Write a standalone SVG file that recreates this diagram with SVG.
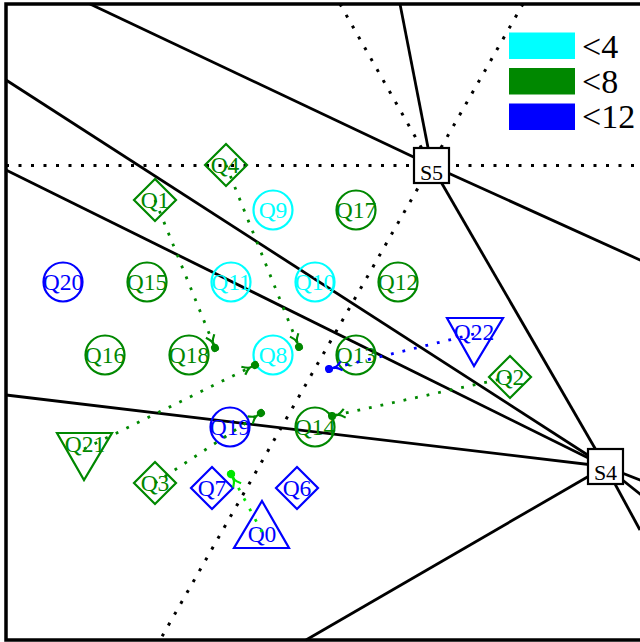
<svg xmlns="http://www.w3.org/2000/svg" width="640" height="642" viewBox="0 0 640 642">
  <style>
    .edge { stroke: #000; stroke-width: 2.8; fill: none; }
    .guide { stroke: #000; stroke-width: 3; stroke-dasharray: 3 9.5; fill: none; }
    .lbl { font-family: "Liberation Serif", "Times New Roman", serif; font-size: 23.5px; text-anchor: middle; }
    .leg { font-family: "Liberation Serif", "Times New Roman", serif; font-size: 34px; fill: #000; }
    .cy { stroke: #00ffff; fill: none; stroke-width: 2.2; }
    .gr { stroke: #008800; fill: none; stroke-width: 2.2; }
    .bl { stroke: #0000ff; fill: none; stroke-width: 2.2; }
    .tcy { fill: #00ffff; }
    .tgr { fill: #008800; }
    .tbl { fill: #0000ff; }
    .site { fill: #fff; stroke: #000; stroke-width: 2.2; }
    .move { fill: none; stroke-width: 2.8; stroke-dasharray: 2.8 9; }
  </style>
  <defs>
    <marker id="endG" viewBox="-14 -7 18 14" markerWidth="18" markerHeight="14" refX="0" refY="0" orient="auto" markerUnits="userSpaceOnUse">
      <path d="M -13,-4.5 Q -9,-1 -6,0 Q -9,1 -13,4.5 M -6,0 L -2,0" fill="none" stroke="#008800" stroke-width="2.2"/>
      <circle cx="0" cy="0" r="4" fill="#008800"/>
    </marker>
    <marker id="endB" viewBox="-14 -7 18 14" markerWidth="18" markerHeight="14" refX="0" refY="0" orient="auto" markerUnits="userSpaceOnUse">
      <path d="M -13,-4.5 Q -9,-1 -6,0 Q -9,1 -13,4.5 M -6,0 L -2,0" fill="none" stroke="#0000ff" stroke-width="2.2"/>
      <circle cx="0" cy="0" r="4" fill="#0000ff"/>
    </marker>
    <marker id="endL" viewBox="-14 -7 18 14" markerWidth="18" markerHeight="14" refX="0" refY="0" orient="auto" markerUnits="userSpaceOnUse">
      <path d="M -13,-4.5 Q -9,-1 -6,0 Q -9,1 -13,4.5 M -6,0 L -2,0" fill="none" stroke="#00e600" stroke-width="2.2"/>
      <circle cx="0" cy="0" r="4.2" fill="#00e600"/>
    </marker>
  </defs>

  <rect x="0" y="0" width="640" height="642" fill="#fff"/>

  <!-- dotted guide lines -->
  <g id="guides">
    <line class="guide" x1="6" y1="165.5" x2="640" y2="165.5"/>
    <line class="guide" x1="340" y1="4" x2="431.5" y2="165.5"/>
    <line class="guide" x1="523" y1="4" x2="160" y2="640"/>
  </g>

  <!-- solid boundary lines -->
  <g id="edges">
    <line class="edge" x1="90" y1="4" x2="431.5" y2="165.5"/>
    <line class="edge" x1="431.5" y1="165.5" x2="660" y2="269"/>
    <line class="edge" x1="400" y1="4" x2="431.5" y2="165.5"/>
    <line class="edge" x1="431.5" y1="165.5" x2="605.5" y2="466.5"/>
    <line class="edge" x1="6" y1="80" x2="605.5" y2="466.5"/>
    <line class="edge" x1="6" y1="170" x2="605.5" y2="466.5"/>
    <line class="edge" x1="6" y1="395" x2="605.5" y2="466.5"/>
    <line class="edge" x1="306" y1="640" x2="605.5" y2="466.5"/>
    <line class="edge" x1="605.5" y1="466.5" x2="660" y2="488"/>
    <line class="edge" x1="605.5" y1="466.5" x2="660" y2="510"/>
    <line class="edge" x1="605.5" y1="466.5" x2="640" y2="530"/>
  </g>

  <!-- frame -->
  <rect x="6" y="4" width="700" height="636" fill="none" stroke="#000" stroke-width="3.5"/>

  <!-- sites -->
  <g id="S5">
    <rect class="site" x="414" y="148" width="35" height="35"/>
    <text class="lbl" x="431.5" y="180" style="font-size:22px">S5</text>
  </g>
  <g id="S4">
    <rect class="site" x="588" y="449" width="35" height="35"/>
    <text class="lbl" x="605.5" y="480" style="font-size:22px">S4</text>
  </g>

  <!-- circle nodes -->
  <g id="Q9"><circle class="cy" cx="273" cy="210" r="19.5"/><text class="lbl tcy" x="273" y="218">Q9</text></g>
  <g id="Q17"><circle class="gr" cx="356" cy="210" r="19.5"/><text class="lbl tgr" x="356" y="218">Q17</text></g>
  <g id="Q20"><circle class="bl" cx="63" cy="282" r="19.5"/><text class="lbl tbl" x="63" y="290">Q20</text></g>
  <g id="Q15"><circle class="gr" cx="147" cy="282" r="19.5"/><text class="lbl tgr" x="147" y="290">Q15</text></g>
  <g id="Q11"><circle class="cy" cx="231" cy="282" r="19.5"/><text class="lbl tcy" x="231" y="290">Q11</text></g>
  <g id="Q10"><circle class="cy" cx="315" cy="282" r="19.5"/><text class="lbl tcy" x="315" y="290">Q10</text></g>
  <g id="Q12"><circle class="gr" cx="398" cy="282" r="19.5"/><text class="lbl tgr" x="398" y="290">Q12</text></g>
  <g id="Q16"><circle class="gr" cx="105" cy="355" r="19.5"/><text class="lbl tgr" x="105" y="363">Q16</text></g>
  <g id="Q18"><circle class="gr" cx="189" cy="355" r="19.5"/><text class="lbl tgr" x="189" y="363">Q18</text></g>
  <g id="Q8"><circle class="cy" cx="273" cy="355" r="19.5"/><text class="lbl tcy" x="273" y="363">Q8</text></g>
  <g id="Q13"><circle class="gr" cx="356" cy="355" r="19.5"/><text class="lbl tgr" x="356" y="363">Q13</text></g>
  <g id="Q19"><circle class="bl" cx="230" cy="427" r="19.5"/><text class="lbl tbl" x="230" y="435">Q19</text></g>
  <g id="Q14"><circle class="gr" cx="315" cy="427" r="19.5"/><text class="lbl tgr" x="315" y="435">Q14</text></g>

  <!-- diamond nodes -->
  <g id="Q4"><polygon class="gr" points="226,144 247,165 226,186 205,165"/><text class="lbl tgr" x="225" y="173">Q4</text></g>
  <g id="Q1"><polygon class="gr" points="155,179 176,200 155,221 134,200"/><text class="lbl tgr" x="155" y="208">Q1</text></g>
  <g id="Q2"><polygon class="gr" points="510,356 531,377 510,398 489,377"/><text class="lbl tgr" x="510" y="385">Q2</text></g>
  <g id="Q3"><polygon class="gr" points="155,462 176,483 155,504 134,483"/><text class="lbl tgr" x="155" y="491">Q3</text></g>
  <g id="Q7"><polygon class="bl" points="212,467 233,488 212,509 191,488"/><text class="lbl tbl" x="212" y="496">Q7</text></g>
  <g id="Q6"><polygon class="bl" points="297,467 318,488 297,509 276,488"/><text class="lbl tbl" x="297" y="496">Q6</text></g>

  <!-- triangle nodes -->
  <g id="Q22"><polygon class="bl" points="447,318 503,318 474,366"/><text class="lbl tbl" x="474" y="340">Q22</text></g>
  <g id="Q21"><polygon class="gr" points="57,433 112,433 84,480"/><text class="lbl tgr" x="85" y="452">Q21</text></g>
  <g id="Q0"><polygon class="bl" points="262,501 289,548 234,548"/><text class="lbl tbl" x="262" y="542">Q0</text></g>

  <!-- movement connectors -->
  <g id="connectors">
    <line class="move" stroke="#008800" x1="155" y1="200" x2="215" y2="348" marker-end="url(#endG)"/>
    <line class="move" stroke="#008800" x1="226" y1="165" x2="299" y2="347" marker-end="url(#endG)"/>
    <line class="move" stroke="#008800" x1="84" y1="449" x2="255" y2="365" marker-end="url(#endG)"/>
    <line class="move" stroke="#008800" x1="155" y1="483" x2="261" y2="413" marker-end="url(#endG)"/>
    <line class="move" stroke="#008800" x1="510" y1="377" x2="332" y2="416" marker-end="url(#endG)"/>
    <line class="move" stroke="#0000ff" x1="474" y1="334" x2="329" y2="369" marker-end="url(#endB)"/>
    <line class="move" stroke="#00e600" x1="262" y1="532" x2="231" y2="474" marker-end="url(#endL)"/>
  </g>

  <!-- legend -->
  <g id="legend">
    <rect x="509" y="32.5" width="66" height="26.5" fill="#00ffff"/>
    <rect x="509" y="68" width="66" height="26.5" fill="#008800"/>
    <rect x="509" y="103.5" width="66" height="26.5" fill="#0000ff"/>
    <text class="leg" x="582" y="58">&lt;4</text>
    <text class="leg" x="582" y="93">&lt;8</text>
    <text class="leg" x="582" y="128">&lt;12</text>
  </g>
</svg>
